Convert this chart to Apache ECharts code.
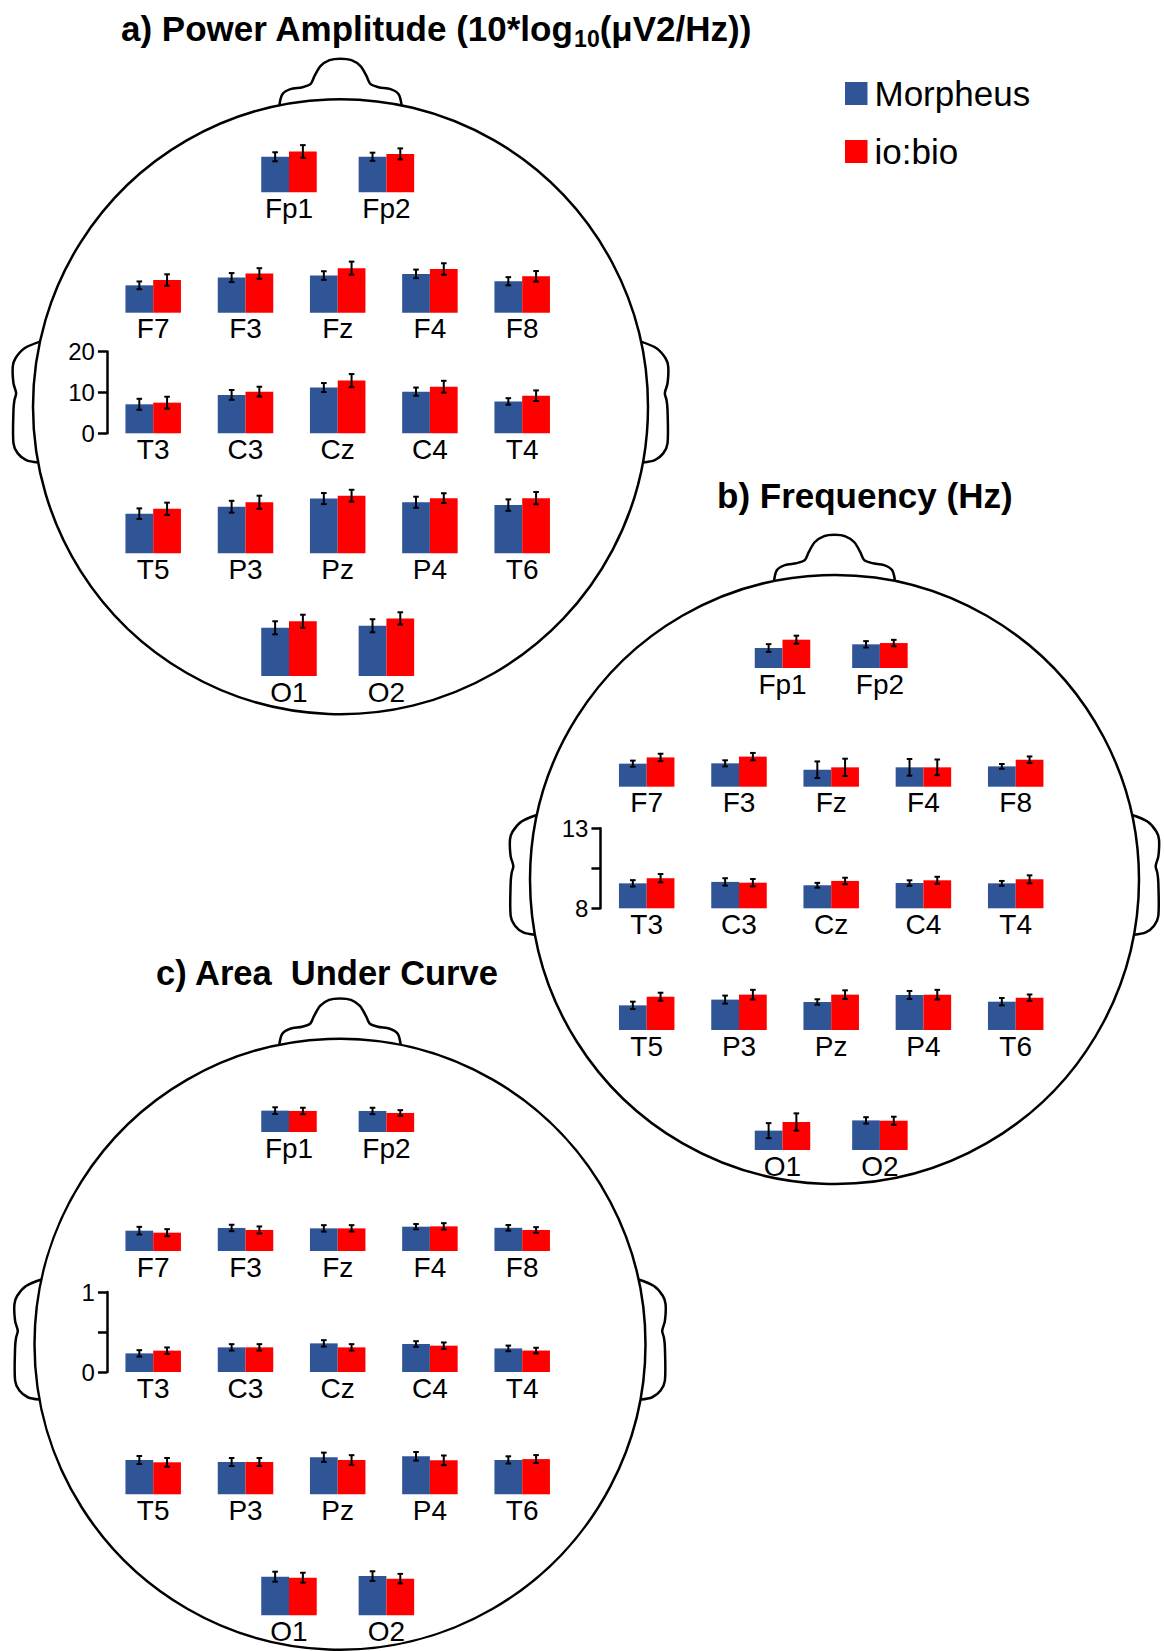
<!DOCTYPE html>
<html>
<head>
<meta charset="utf-8">
<title>EEG spectral measures per electrode</title>
<script src="https://cdn.jsdelivr.net/npm/echarts@6/dist/echarts.min.js"></script>
<style>
html, body { margin: 0; padding: 0; background: #fff; }
#main { width: 1164px; height: 1651px; }
</style>
</head>
<body>
<div id="main"></div>
<script>
// electrodes, same order in every panel
var electrodes = ['Fp1', 'Fp2', 'F7', 'F3', 'Fz', 'F4', 'F8', 'T3', 'C3', 'Cz', 'C4', 'T4', 'T5', 'P3', 'Pz', 'P4', 'T6', 'O1', 'O2'];
var devices = ['Morpheus', 'io:bio'];

// a) power amplitude, 10*log10(uV2/Hz)
var powerMorpheus = [8.7, 8.7, 6.7, 8.6, 9.1, 9.5, 7.7, 7.1, 9.4, 11.2, 10.2, 7.8, 9.7, 11.4, 13.4, 12.5, 11.8, 11.8, 12.3];
var powerIobio = [10.0, 9.4, 8.0, 9.6, 10.9, 10.7, 8.9, 7.5, 10.2, 12.9, 11.4, 9.2, 10.9, 12.5, 14.1, 13.5, 13.5, 13.4, 14.1];
var powerMorpheusErr = [1.1, 1.0, 0.95, 1.1, 1.05, 1.05, 1.0, 1.35, 1.2, 1.1, 1.0, 0.8, 1.3, 1.45, 1.35, 1.35, 1.4, 1.6, 1.6];
var powerIobioErr = [1.55, 1.35, 1.4, 1.3, 1.6, 1.4, 1.3, 1.45, 1.2, 1.6, 1.45, 1.3, 1.5, 1.6, 1.45, 1.2, 1.5, 1.6, 1.5];
var powerTicks = [0, 10, 20];
var powerTickLabels = [0, 10, 20];

// b) frequency, Hz
var freqMorpheus = [9.25, 9.48, 9.44, 9.46, 9.06, 9.21, 9.27, 9.56, 9.65, 9.44, 9.58, 9.56, 9.54, 9.9, 9.75, 10.19, 9.77, 9.21, 9.85];
var freqIobio = [9.77, 9.56, 9.83, 9.88, 9.21, 9.21, 9.69, 9.88, 9.6, 9.71, 9.75, 9.81, 10.08, 10.21, 10.21, 10.21, 10.02, 9.75, 9.83];
var freqMorpheusErr = [0.24, 0.2, 0.19, 0.19, 0.52, 0.52, 0.15, 0.2, 0.23, 0.15, 0.17, 0.15, 0.23, 0.25, 0.17, 0.25, 0.23, 0.47, 0.2];
var freqIobioErr = [0.25, 0.2, 0.23, 0.23, 0.54, 0.49, 0.2, 0.26, 0.23, 0.2, 0.22, 0.25, 0.25, 0.3, 0.27, 0.3, 0.2, 0.54, 0.25];
var freqTicks = [8, 10.5, 13];
var freqTickLabels = [8, 13];

// c) area under curve
var aucMorpheus = [0.267, 0.263, 0.254, 0.288, 0.283, 0.304, 0.29, 0.233, 0.308, 0.358, 0.35, 0.295, 0.429, 0.404, 0.463, 0.475, 0.43, 0.483, 0.49];
var aucIobio = [0.263, 0.238, 0.229, 0.263, 0.283, 0.308, 0.263, 0.267, 0.308, 0.308, 0.329, 0.268, 0.4, 0.404, 0.429, 0.425, 0.44, 0.47, 0.458];
var aucMorpheusErr = [0.042, 0.04, 0.048, 0.04, 0.04, 0.033, 0.035, 0.04, 0.04, 0.04, 0.035, 0.035, 0.05, 0.05, 0.058, 0.054, 0.045, 0.062, 0.06];
var aucIobioErr = [0.04, 0.035, 0.044, 0.044, 0.04, 0.04, 0.035, 0.04, 0.04, 0.04, 0.04, 0.035, 0.054, 0.05, 0.06, 0.06, 0.05, 0.062, 0.06];
var aucTicks = [0, 0.5, 1];
var aucTickLabels = [0, 1];

var BLUE = '#2F5597';
var RED = '#FF0000';
var FONT = 'Arial, "Liberation Sans", Helvetica, sans-serif';

// where each electrode sits in the head: row and x offset from the head's grid centre
var slotRow = [0, 0, 1, 1, 1, 1, 1, 2, 2, 2, 2, 2, 3, 3, 3, 3, 3, 4, 4];
var slotX = [-48.7, 48.7, -184.5, -92.2, 0, 92.2, 184.5, -184.5, -92.2, 0, 92.2, 184.5,
             -184.5, -92.2, 0, 92.2, 184.5, -48.7, 48.7];
var BAR_W = 55.5;

var panels = [
    {m: powerMorpheus, i: powerIobio, mErr: powerMorpheusErr, iErr: powerIobioErr,
     min: 0, max: 20, ticks: powerTicks, labels: powerTickLabels, plotH: 81.7,
     cx: 340.5, cy: 406.7, r: 307.5, gx: 337.7, rows: [192.3, 312.7, 433.3, 553.3, 676]},
    {m: freqMorpheus, i: freqIobio, mErr: freqMorpheusErr, iErr: freqIobioErr,
     min: 8, max: 13, ticks: freqTicks, labels: freqTickLabels, plotH: 80,
     cx: 834.5, cy: 879.5, r: 304.5, gx: 831.2, rows: [668, 786.7, 908.3, 1030, 1150]},
    {m: aucMorpheus, i: aucIobio, mErr: aucMorpheusErr, iErr: aucIobioErr,
     min: 0, max: 1, ticks: aucTicks, labels: aucTickLabels, plotH: 80,
     cx: 340, cy: 1344.2, r: 305.5, gx: 337.7, rows: [1132, 1251, 1372, 1494.3, 1615.3]}
];

// head outline pieces, relative to the head centre for r = 307
var noseHalf = [[-61, -301], [-58, -312], [-50, -317], [-38, -319], [-30, -322], [-26, -330],
                [-20, -340], [-11, -346], [0, -347.5]];
var earLeft = [[-300, -65], [-315.5, -58.4], [-324.5, -48.4], [-327.2, -40], [-326.5, -23.4],
               [-323.8, -13.4], [-325.5, -6.7], [-326.5, 3.3], [-326.5, 36.6], [-322.2, 46.6],
               [-313.8, 53.3], [-302, 55.6]];

function place(pts, p, flip) {
    var k = p.r / 307;
    return pts.map(function (q) {
        return [p.cx + (flip ? -q[0] : q[0]) * k, p.cy + q[1] * k];
    });
}

function renderErr(params, api) {
    var c = api.value(0), v = api.value(1), e = api.value(2);
    var hi = api.coord([c, v + e]);
    var lo = api.coord([c, v - e]);
    var w = 2.8;
    var st = {stroke: '#000', lineWidth: 2};
    return {
        type: 'group',
        children: [
            {type: 'line', shape: {x1: hi[0], y1: hi[1], x2: lo[0], y2: lo[1]}, style: st},
            {type: 'line', shape: {x1: hi[0] - w, y1: hi[1], x2: hi[0] + w, y2: hi[1]}, style: st},
            {type: 'line', shape: {x1: lo[0] - w, y1: lo[1], x2: lo[0] + w, y2: lo[1]}, style: st}
        ]
    };
}

// text width helper, used to lay out the subscript in title a
var measureCtx = document.createElement('canvas').getContext('2d');
function textWidth(str, size, weight) {
    measureCtx.font = weight + ' ' + size + 'px ' + FONT;
    return measureCtx.measureText(str).width;
}

var grids = [], xAxes = [], yAxes = [], series = [], graphics = [];
var outline = {stroke: '#000', lineWidth: 2.5, fill: null};

panels.forEach(function (p) {
    // head, nose and ears
    graphics.push({type: 'circle', shape: {cx: p.cx, cy: p.cy, r: p.r}, style: outline, z: 1});
    var nose = noseHalf.concat(noseHalf.slice(0, -1).reverse().map(function (q) { return [-q[0], q[1]]; }));
    graphics.push({type: 'polyline', shape: {points: place(nose, p, false), smooth: 0.3}, style: outline, z: 1});
    graphics.push({type: 'polyline', shape: {points: place(earLeft, p, false), smooth: 0.3}, style: outline, z: 1});
    graphics.push({type: 'polyline', shape: {points: place(earLeft, p, true), smooth: 0.3}, style: outline, z: 1});

    electrodes.forEach(function (name, k) {
        var idx = grids.length;
        var x = p.gx + slotX[k];
        var base = p.rows[slotRow[k]];
        var isScale = name === 'T3';
        grids.push({left: x - BAR_W / 2, top: base - p.plotH, width: BAR_W, height: p.plotH,
                    outerBoundsMode: 'none', containLabel: false});
        xAxes.push({type: 'category', gridIndex: idx, data: devices, show: false});
        yAxes.push({
            type: 'value', gridIndex: idx, min: p.min, max: p.max, show: isScale,
            position: 'left', offset: 18.5,
            axisLine: {show: true, lineStyle: {color: '#000', width: 2.5}},
            axisTick: {show: true, length: 9, lineStyle: {color: '#000', width: 2.5}, customValues: p.ticks},
            axisLabel: {show: true, customValues: p.labels, fontSize: 24, color: '#000', margin: 12, fontFamily: FONT},
            splitLine: {show: false}
        });
        series.push({
            type: 'bar', name: devices[0], xAxisIndex: idx, yAxisIndex: idx,
            data: [p.m[k], '-'], barWidth: '100%', barGap: '-100%', clip: true, silent: true,
            itemStyle: {color: BLUE}
        });
        series.push({
            type: 'bar', name: devices[1], xAxisIndex: idx, yAxisIndex: idx,
            data: ['-', p.i[k]], barWidth: '100%', barGap: '-100%', clip: true, silent: true,
            itemStyle: {color: RED}
        });
        series.push({
            type: 'custom', name: 'error', xAxisIndex: idx, yAxisIndex: idx, silent: true, z: 5,
            renderItem: renderErr, encode: {x: 0, y: 1},
            data: [[0, p.m[k], p.mErr[k]], [1, p.i[k], p.iErr[k]]]
        });
        graphics.push({
            type: 'text', x: x, y: base + 16, z: 10,
            style: {text: name, fontSize: 28, fontFamily: FONT, fill: '#000',
                    align: 'center', verticalAlign: 'middle', textAlign: 'center', textVerticalAlign: 'middle'}
        });
    });
});

// panel titles; title a is laid out in three pieces so "10" sits as a subscript
function titleText(str, x, y, size) {
    return {
        type: 'text', x: x, y: y, z: 10,
        style: {text: str, fontSize: size, fontWeight: 'bold', fontFamily: FONT, fill: '#000',
                align: 'left', verticalAlign: 'middle', textAlign: 'left', textVerticalAlign: 'middle'}
    };
}
var tA1 = 'a) Power Amplitude (10*log', tSub = '10', tA2 = '(\u03bcV2/Hz))';
var xA = 121;
graphics.push(titleText(tA1, xA, 28, 35));
xA += textWidth(tA1, 35, 'bold');
graphics.push(titleText(tSub, xA, 39, 23));
xA += textWidth(tSub, 23, 'bold');
graphics.push(titleText(tA2, xA, 28, 35));
graphics.push(titleText('b) Frequency (Hz)', 717, 495, 35));
graphics.push(titleText('c) Area  Under Curve', 156, 973, 34.5));

var chart = echarts.init(document.getElementById('main'), null, {renderer: 'svg'});
chart.setOption({
    animation: false,
    backgroundColor: '#fff',
    legend: {
        data: devices, orient: 'vertical', left: 840, top: 71,
        itemWidth: 22.5, itemHeight: 23, itemGap: 23, icon: 'rect', selectedMode: false,
        textStyle: {fontSize: 35, color: '#000', fontFamily: FONT, padding: [0, 0, 0, 2]}
    },
    grid: grids,
    xAxis: xAxes,
    yAxis: yAxes,
    series: series,
    graphic: {elements: graphics}
});
</script>
</body>
</html>
